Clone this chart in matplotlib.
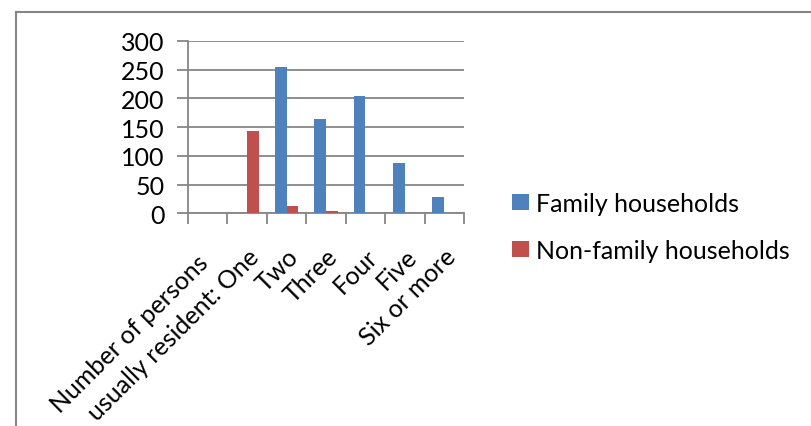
import numpy as np
import matplotlib
matplotlib.use('Agg')
import matplotlib.pyplot as plt
import matplotlib.transforms as mtransforms
from matplotlib.lines import Line2D

plt.rcParams['font.family'] = ['Lato', 'DejaVu Sans']

categories = ['', 'Number of persons\nusually resident: One', 'Two', 'Three', 'Four', 'Five', 'Six or more']
family = [0, 0, 255, 165, 205, 87, 29]
non_family = [0, 144, 13, 4, 0, 0, 0]
yticks = [0, 50, 100, 150, 200, 250, 300]

W, H = 811, 427
fig = plt.figure(figsize=(W / 100, H / 100), dpi=100)
ax = fig.add_axes([188 / W, 1 - 214.3 / H, (464 - 188) / W, (214.3 - 42) / H])

grey = '#868686'
fs = 18
x = np.arange(len(categories))
bw = 0.3
ax.bar(x - bw / 2, family, bw, color='#4F81BD', label='Family households', zorder=3)
ax.bar(x + bw / 2, non_family, bw, color='#C0504D', label='Non-family households', zorder=3)

ax.set_xlim(-0.5, len(categories) - 0.5)
ax.set_ylim(0, 300)
ax.set_yticks(yticks)
ax.yaxis.grid(True, color=grey, linewidth=1.3, zorder=0)
ax.tick_params(axis='y', length=8, width=1.3, color=grey, pad=9, labelsize=fs)
for s in ['top', 'right']:
    ax.spines[s].set_visible(False)
for s in ['left', 'bottom']:
    ax.spines[s].set_color(grey)
    ax.spines[s].set_linewidth(1.3)

# category ticks sit on the boundaries, labels on the centres
ax.set_xticks(np.arange(len(categories) + 1) - 0.5)
ax.set_xticklabels([])
ax.tick_params(axis='x', which='major', length=8, width=1.3, color=grey)

# only the last line goes on the tick, earlier lines are stacked above it
last_lines = [c.split('\n')[-1] for c in categories]
pad = 28
ax.set_xticks(x, minor=True)
ax.set_xticklabels(last_lines, minor=True, rotation=45, ha='right', va='center',
                   rotation_mode='anchor', fontsize=fs)
ax.tick_params(axis='x', which='minor', length=0, pad=pad)
nudge = mtransforms.ScaledTranslation(8 / 100, 0, fig.dpi_scale_trans)
for lab in ax.get_xticklabels(minor=True):
    lab.set_transform(lab.get_transform() + nudge)

for i, c in enumerate(categories):
    lines = c.split('\n')[:-1]
    for k, line in enumerate(reversed(lines)):
        dx = 8 - 51 * (k + 1)
        dy = -pad * 100 / 72 - 5.7 * (k + 1)
        tr = ax.get_xaxis_transform() + mtransforms.ScaledTranslation(dx / 100, dy / 100, fig.dpi_scale_trans)
        ax.text(x[i], 0, line, transform=tr, rotation=45, ha='right', va='center',
                rotation_mode='anchor', fontsize=fs, clip_on=False)

ax.legend(loc='center left', bbox_to_anchor=(489 / W, 1 - 228 / H), bbox_transform=fig.transFigure,
          frameon=False, fontsize=fs, handlelength=0.68, handleheight=0.62, handletextpad=0.3,
          labelspacing=0.95)

# chart frame (only top and left edges are inside the crop)
fig.add_artist(Line2D([16 / W, 1], [1 - 13 / H, 1 - 13 / H], color=grey, linewidth=1.5))
fig.add_artist(Line2D([16 / W, 16 / W], [0, 1 - 13 / H], color=grey, linewidth=1.5))

fig.savefig('out.png', dpi=100)
